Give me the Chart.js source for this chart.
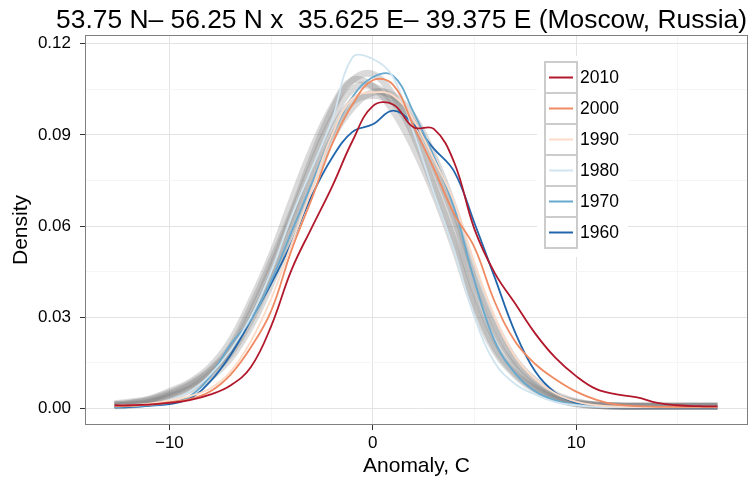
<!DOCTYPE html>
<html>
<head>
<meta charset="utf-8">
<script src="https://cdn.jsdelivr.net/npm/chart.js@4"></script>
<style>
  html, body { margin: 0; padding: 0; background: #fff; }
  canvas { display: block; }
</style>
</head>
<body>
<canvas id="chart" width="750" height="481"></canvas>
<script>
// anomaly grid shared by every density curve
const xs = [-12.7, -12, -11, -10, -9, -8, -7, -6, -5, -4, -3, -2, -1, 0, 1, 2, 3, 4, 5, 6, 7, 8, 9, 10, 11, 12, 13, 14, 15, 16, 16.95];

// decade curves
const d2010 = [0.0010, 0.0010, 0.0012, 0.0018, 0.0027, 0.0045, 0.0075, 0.0135, 0.0270, 0.0455, 0.0595, 0.0730, 0.0880, 0.0995, 0.1000, 0.0925, 0.0920, 0.0810, 0.0590, 0.0445, 0.0345, 0.0245, 0.0165, 0.0106, 0.0063, 0.0046, 0.0036, 0.0018, 0.0010, 0.0007, 0.0006];
const d2000 = [0.0007, 0.0008, 0.0012, 0.0020, 0.0030, 0.0055, 0.0110, 0.0200, 0.0320, 0.0520, 0.0690, 0.0870, 0.1000, 0.1080, 0.1065, 0.0930, 0.0790, 0.0640, 0.0530, 0.0350, 0.0220, 0.0145, 0.0095, 0.0055, 0.0028, 0.0012, 0.0007, 0.0005, 0.0005, 0.0005, 0.0005];
const d1990 = [0.0008, 0.0010, 0.0015, 0.0025, 0.0040, 0.0065, 0.0120, 0.0220, 0.0360, 0.0540, 0.0720, 0.0900, 0.1020, 0.1040, 0.1030, 0.0950, 0.0820, 0.0680, 0.0480, 0.0300, 0.0170, 0.0095, 0.0048, 0.0022, 0.0010, 0.0006, 0.0005, 0.0005, 0.0005, 0.0005, 0.0005];
const d1980 = [0.0006, 0.0008, 0.0013, 0.0028, 0.0055, 0.0110, 0.0190, 0.0300, 0.0450, 0.0630, 0.0790, 0.0950, 0.1155, 0.1150, 0.1090, 0.0910, 0.0710, 0.0520, 0.0300, 0.0150, 0.0080, 0.0045, 0.0020, 0.0010, 0.0005, 0.0004, 0.0004, 0.0004, 0.0004, 0.0004, 0.0004];
const d1970 = [0.0005, 0.0006, 0.0010, 0.0018, 0.0040, 0.0105, 0.0210, 0.0290, 0.0420, 0.0580, 0.0740, 0.0900, 0.1025, 0.1090, 0.1095, 0.0975, 0.0830, 0.0660, 0.0420, 0.0220, 0.0115, 0.0055, 0.0025, 0.0012, 0.0006, 0.0004, 0.0004, 0.0004, 0.0004, 0.0004, 0.0004];
const d1960 = [0.0003, 0.0004, 0.0008, 0.0014, 0.0032, 0.0088, 0.0175, 0.0290, 0.0410, 0.0545, 0.0700, 0.0825, 0.0910, 0.0935, 0.0980, 0.0935, 0.0855, 0.0780, 0.0610, 0.0430, 0.0250, 0.0120, 0.0050, 0.0018, 0.0006, 0.0003, 0.0003, 0.0003, 0.0003, 0.0003, 0.0003];

// background yearly curves (grey band)
const g1 = [0.0015, 0.0020, 0.0030, 0.0055, 0.0085, 0.0135, 0.0220, 0.0350, 0.0500, 0.0680, 0.0850, 0.0990, 0.1080, 0.1060, 0.0980, 0.0860, 0.0710, 0.0530, 0.0330, 0.0190, 0.0110, 0.0060, 0.0030, 0.0015, 0.0010, 0.0008, 0.0008, 0.0008, 0.0008, 0.0008, 0.0008];
const g2 = [0.0010, 0.0015, 0.0025, 0.0045, 0.0075, 0.0120, 0.0190, 0.0310, 0.0460, 0.0630, 0.0800, 0.0950, 0.1050, 0.1060, 0.1010, 0.0910, 0.0770, 0.0600, 0.0390, 0.0230, 0.0130, 0.0070, 0.0035, 0.0018, 0.0010, 0.0008, 0.0007, 0.0007, 0.0007, 0.0007, 0.0007];
const g3 = [0.0010, 0.0012, 0.0020, 0.0040, 0.0065, 0.0110, 0.0180, 0.0290, 0.0430, 0.0590, 0.0760, 0.0910, 0.1010, 0.1030, 0.1010, 0.0940, 0.0800, 0.0630, 0.0420, 0.0260, 0.0150, 0.0080, 0.0040, 0.0020, 0.0010, 0.0007, 0.0006, 0.0006, 0.0006, 0.0006, 0.0006];
const g4 = [0.0012, 0.0016, 0.0028, 0.0050, 0.0080, 0.0125, 0.0200, 0.0330, 0.0480, 0.0640, 0.0820, 0.0980, 0.1080, 0.1100, 0.1030, 0.0900, 0.0730, 0.0550, 0.0350, 0.0200, 0.0115, 0.0065, 0.0032, 0.0016, 0.0009, 0.0007, 0.0007, 0.0007, 0.0007, 0.0007, 0.0007];
const g5 = [0.0008, 0.0010, 0.0018, 0.0035, 0.0060, 0.0100, 0.0165, 0.0270, 0.0410, 0.0570, 0.0740, 0.0890, 0.0990, 0.1040, 0.1030, 0.0960, 0.0830, 0.0660, 0.0450, 0.0280, 0.0160, 0.0090, 0.0045, 0.0022, 0.0011, 0.0007, 0.0006, 0.0006, 0.0006, 0.0006, 0.0006];

const years = ['2010', '2000', '1990', '1980', '1970', '1960'];
const decadeSeries = [d2010, d2000, d1990, d1980, d1970, d1960];
const decadeColors = ['#B2182B', '#EF8A62', '#FDDBC7', '#D1E5F0', '#67A9CF', '#2166AC'];
const greySeries = [g1, g2, g3, g4, g5];

const xTicks = [-10, -5, 0, 5, 10, 15];
const xMajor = { '-10': '\u221210', '0': '0', '10': '10' };
const yTicks = [0, 0.015, 0.03, 0.045, 0.06, 0.075, 0.09, 0.105, 0.12];
const yMajor = { '0': '0.00', '0.03': '0.03', '0.06': '0.06', '0.09': '0.09', '0.12': '0.12' };

const titleText = '53.75 N\u2013 56.25 N x  35.625 E\u2013 39.375 E (Moscow, Russia)';
const FONT = '"Liberation Sans", Arial, Helvetica, sans-serif';

const toPoints = ys => xs.map((x, i) => ({ x: x, y: ys[i] }));

const datasets = [];
decadeSeries.forEach((s, i) => {
  datasets.push({
    label: years[i],
    data: toPoints(s),
    borderColor: decadeColors[i],
    borderWidth: 1.8,
    pointRadius: 0,
    tension: 0.4,
    fill: false,
  });
});
greySeries.forEach((s, i) => {
  datasets.push({
    label: 'grey' + i,
    data: toPoints(s),
    borderColor: 'rgba(120, 120, 120, 0.27)',
    borderWidth: 7,
    pointRadius: 0,
    tension: 0.4,
    fill: false,
  });
});

const isMajorY = v => yMajor[String(+v.toFixed(3))] !== undefined;
const isMajorX = v => xMajor[String(v)] !== undefined;

const decor = {
  id: 'decor',
  beforeDraw(chart) {
    const ctx = chart.ctx;
    ctx.save();
    ctx.fillStyle = '#fff';
    ctx.fillRect(0, 0, chart.width, chart.height);
    ctx.restore();
  },
  afterDatasetsDraw(chart) {
    const { ctx, chartArea } = chart;
    ctx.save();
    // panel border
    ctx.strokeStyle = '#7f7f7f';
    ctx.lineWidth = 1;
    ctx.strokeRect(chartArea.left + 0.5, chartArea.top + 0.5,
      chartArea.right - chartArea.left - 1, chartArea.bottom - chartArea.top - 1);

    // legend
    ctx.fillStyle = '#fff';
    ctx.fillRect(537, 56, 91, 201);
    const keyX = 545, keyW = 32, keyH = 31, top0 = 62;
    years.forEach((y, i) => {
      const ky = top0 + i * keyH;
      ctx.fillStyle = '#fff';
      ctx.fillRect(keyX, ky, keyW, keyH);
      ctx.strokeStyle = '#cccccc';
      ctx.lineWidth = 2;
      ctx.strokeRect(keyX, ky, keyW, keyH);
      ctx.strokeStyle = decadeColors[i];
      ctx.lineWidth = 2;
      ctx.beginPath();
      ctx.moveTo(keyX + 4, ky + keyH / 2);
      ctx.lineTo(keyX + keyW - 4, ky + keyH / 2);
      ctx.stroke();
      ctx.fillStyle = '#000';
      ctx.font = '17.5px ' + FONT;
      ctx.textAlign = 'left';
      ctx.textBaseline = 'middle';
      ctx.fillText(y, 580, ky + keyH / 2 + 1);
    });
    ctx.restore();
  },
  afterDraw(chart) {
    const ctx = chart.ctx;
    ctx.save();
    ctx.fillStyle = '#000';
    ctx.font = '26.4px ' + FONT;
    ctx.textAlign = 'center';
    ctx.textBaseline = 'alphabetic';
    ctx.fillText(titleText, 401.5, 28);
    ctx.restore();
  },
};

new Chart(document.getElementById('chart'), {
  type: 'line',
  data: { datasets: datasets },
  options: {
    responsive: false,
    animation: false,
    devicePixelRatio: 1,
    layout: { padding: { top: 35, right: 2, left: 0, bottom: 0 } },
    plugins: {
      legend: { display: false },
      tooltip: { enabled: false },
    },
    scales: {
      x: {
        type: 'linear',
        min: -14.15,
        max: 18.45,
        afterBuildTicks: scale => {
          scale.ticks = xTicks.map(v => ({ value: v }));
        },
        afterFit: scale => {
          scale.height = 56;
        },
        border: { display: false },
        grid: {
          color: ctx => (isMajorX(ctx.tick.value) ? '#e3e3e3' : '#f5f5f5'),
          lineWidth: 1,
          tickLength: 5,
          tickColor: ctx => (isMajorX(ctx.tick.value) ? '#333' : 'rgba(0,0,0,0)'),
        },
        ticks: {
          autoSkip: false,
          maxRotation: 0,
          padding: 3,
          color: '#000',
          font: { family: FONT, size: 17 },
          callback: value => xMajor[String(value)] || '',
        },
        title: {
          display: true,
          text: 'Anomaly, C',
          color: '#000',
          font: { family: FONT, size: 21 },
          padding: { top: 0, bottom: 2 },
        },
      },
      y: {
        type: 'linear',
        min: -0.0055,
        max: 0.1229,
        afterBuildTicks: scale => {
          scale.ticks = yTicks.map(v => ({ value: v }));
        },
        afterFit: scale => {
          scale.width = 85;
        },
        border: { display: false },
        grid: {
          color: ctx => (isMajorY(ctx.tick.value) ? '#e3e3e3' : '#f5f5f5'),
          lineWidth: 1,
          tickLength: 5,
          tickColor: ctx => (isMajorY(ctx.tick.value) ? '#333' : 'rgba(0,0,0,0)'),
        },
        ticks: {
          autoSkip: false,
          padding: 9,
          color: '#000',
          font: { family: FONT, size: 17 },
          callback: value => yMajor[String(+(+value).toFixed(3))] || '',
        },
        title: {
          display: true,
          text: 'Density',
          color: '#000',
          font: { family: FONT, size: 21 },
          padding: { top: 9, bottom: 0 },
        },
      },
    },
  },
  plugins: [decor],
});
</script>
</body>
</html>
